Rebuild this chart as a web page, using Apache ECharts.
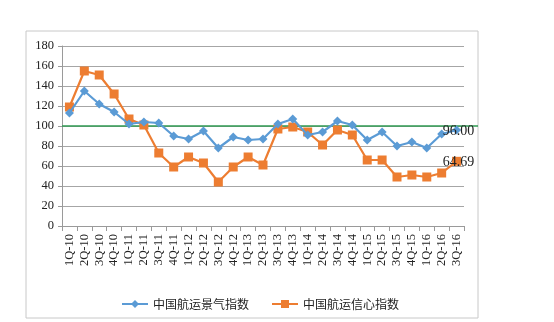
<!DOCTYPE html>
<html><head><meta charset="utf-8">
<script src="https://cdn.jsdelivr.net/npm/echarts@6/dist/echarts.min.js"></script>
<style>html,body{margin:0;padding:0;background:#fff}#c{width:554px;height:322px}</style>
</head><body><div id="c"></div>
<script>
const categories = ['1Q-10','2Q-10','3Q-10','4Q-10','1Q-11','2Q-11','3Q-11','4Q-11','1Q-12','2Q-12','3Q-12','4Q-12','1Q-13','2Q-13','3Q-13','4Q-13','1Q-14','2Q-14','3Q-14','4Q-14','1Q-15','2Q-15','3Q-15','4Q-15','1Q-16','2Q-16','3Q-16'];
const prosperity = [113,135,122,114,102,104,103,90,87,95,78,89,86,87,102,107,91,94,105,101,86,94,80,84,78,92,96.00];
const confidence = [119,155,151,132,107,101,73,59,69,63,44,59,69,61,97,99,94,81,96,91,66,66,49,51,49,53,64.69];
const yTicks = [0,20,40,60,80,100,120,140,160,180];
const referenceLevel = 100;
const seriesNames = ['中国航运景气指数','中国航运信心指数'];

const serif = '"Liberation Serif", "DejaVu Serif", serif';
const cjk = '"Noto Sans CJK SC", sans-serif';
const last = categories.length - 1;
function lastLabel(){
  return {show:true, position:'inside', offset:[2,1], color:'#222', fontFamily:serif, fontSize:14,
    formatter: p => p.dataIndex === last ? p.value.toFixed(2) : ''};
}
const chart = echarts.init(document.getElementById('c'));
chart.setOption({
  animation:false,
  graphic:[{type:'rect', shape:{x:26,y:31,width:452,height:287}, style:{fill:'none', stroke:'#c8c8c8', lineWidth:1}, z:-1}],
  grid:[
    {left:62, right:90, top:46, bottom:96},
    {left:62, right:76, top:46, bottom:96}
  ],
  legend:{
    data:seriesNames, left:116, top:293, itemGap:22, itemWidth:26, itemHeight:10,
    textStyle:{fontFamily:cjk, fontSize:12, color:'#222'}
  },
  xAxis:[
    {type:'category', data:categories, gridIndex:0, boundaryGap:true,
     axisLine:{lineStyle:{color:'#9a9a9a'}},
     axisTick:{show:true, length:5, lineStyle:{color:'#9a9a9a'}},
     axisLabel:{rotate:90, interval:0, fontFamily:serif, fontSize:12.5, color:'#222', margin:8}},
    {type:'value', gridIndex:1, min:0, max:1, show:false}
  ],
  yAxis:[
    {type:'value', gridIndex:0, min:yTicks[0], max:yTicks[yTicks.length-1], interval:20,
     axisLine:{show:true, lineStyle:{color:'#9a9a9a'}},
     axisTick:{show:true, length:4, lineStyle:{color:'#9a9a9a'}},
     splitLine:{lineStyle:{color:'#a6a6a6'}},
     axisLabel:{fontFamily:serif, fontSize:12.5, color:'#222', margin:8}},
    {type:'value', gridIndex:1, min:yTicks[0], max:yTicks[yTicks.length-1], show:false}
  ],
  series:[
    {name:'ref', type:'line', xAxisIndex:1, yAxisIndex:1, data:[[0,referenceLevel],[1,referenceLevel]],
     symbol:'none', lineStyle:{color:'#2f9a52', width:1.5}, silent:true, z:1},
    {name:seriesNames[0], type:'line', data:prosperity, symbol:'diamond', symbolSize:9,
     itemStyle:{color:'#5B9BD5'}, lineStyle:{color:'#5B9BD5', width:2.2}, label:lastLabel(), z:3},
    {name:seriesNames[1], type:'line', data:confidence, symbol:'rect', symbolSize:9,
     itemStyle:{color:'#ED7D31'}, lineStyle:{color:'#ED7D31', width:2.2}, label:lastLabel(), z:2}
  ]
});
</script></body></html>
